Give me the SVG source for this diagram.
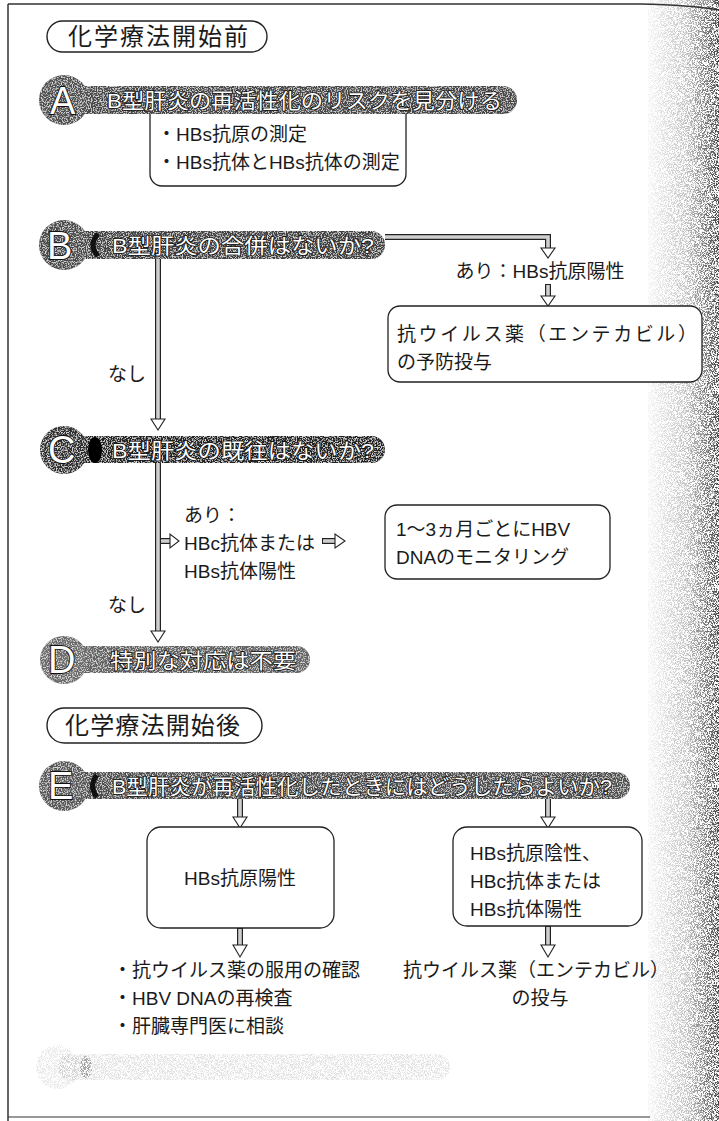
<svg xmlns="http://www.w3.org/2000/svg" width="719" height="1121" viewBox="0 0 719 1121">
<defs>
<style>
.t{font-family:"Liberation Sans","Noto Sans CJK JP",sans-serif;fill:#1a1a1a;font-size:19px}
.hd{font-family:"Liberation Sans","Noto Sans CJK JP",sans-serif;fill:#1a1a1a;font-size:24px}
.bt{font-family:"Liberation Sans","Noto Sans CJK JP",sans-serif;fill:#fff;stroke:#111;stroke-width:1.6px;paint-order:stroke;font-size:21px}
.let{font-family:"Liberation Sans",sans-serif;fill:#fff;stroke:#111;stroke-width:1.8px;paint-order:stroke;font-size:38px}
.box{fill:#fff;stroke:#222;stroke-width:1.3}
.pill{fill:#fff;stroke:#222;stroke-width:1.4}
.sh{fill:none;stroke:#222;stroke-width:6;stroke-linejoin:miter}
.shi{fill:none;stroke:#cfcfcf;stroke-width:3.6;stroke-linejoin:miter}
.hd2{fill:#fff;stroke:#222;stroke-width:1.1}
</style>
<filter id="grain" x="0" y="0" width="100%" height="100%">
<feTurbulence type="fractalNoise" baseFrequency="0.8" numOctaves="2" seed="5" result="n"/>
<feColorMatrix in="n" type="matrix" values="0 0 0 0 0.66  0 0 0 0 0.66  0 0 0 0 0.66  -4.5 0 0 0 2.4" result="w"/>
<feComposite in="w" in2="SourceGraphic" operator="in" result="wi"/>
<feMerge><feMergeNode in="SourceGraphic"/><feMergeNode in="wi"/></feMerge>
</filter>
<filter id="stip" x="0" y="0" width="100%" height="100%">
<feTurbulence type="fractalNoise" baseFrequency="1.3" numOctaves="1" seed="2" result="n"/>
<feColorMatrix in="n" type="matrix" values="0 0 0 0 0  0 0 0 0 0  0 0 0 0 0  -7 0 0 0 3.9" result="d"/>
<feComposite in="d" in2="SourceGraphic" operator="in"/>
</filter>
<linearGradient id="side" x1="0" y1="0" x2="1" y2="0">
<stop offset="0" stop-color="#000" stop-opacity="0.04"/>
<stop offset="0.55" stop-color="#000" stop-opacity="0.25"/>
<stop offset="1" stop-color="#000" stop-opacity="0.75"/>
</linearGradient>
</defs>
<rect width="719" height="1121" fill="#fff"/>
<rect x="648" y="0" width="71" height="1121" fill="url(#side)" filter="url(#stip)"/>
<path d="M8 4 L640 4 Q690 5 719 10" fill="none" stroke="#333" stroke-width="1.3"/>
<line x1="8" y1="4" x2="8" y2="1121" stroke="#333" stroke-width="1.5"/>
<line x1="8" y1="1117" x2="650" y2="1117" stroke="#333" stroke-width="1.2"/>

<g id="header1">
<rect class="pill" x="47" y="21" width="220" height="31" rx="15.5"/>
<text class="hd" x="68" y="45" textLength="180" lengthAdjust="spacing">化学療法開始前</text>
</g>

<g id="nodeA-box">
<rect class="box" x="150" y="100" width="256" height="86" rx="12"/>
<text class="t" x="157" y="141">・HBs抗原の測定</text>
<text class="t" x="157" y="169">・HBs抗体とHBs抗体の測定</text>
</g>
<g id="nodeA">
<g filter="url(#grain)">
<rect x="64" y="86" width="453" height="28" rx="14" fill="#464646"/>
<circle cx="64" cy="100" r="25" fill="#505050"/>
</g>
<text class="let" x="50" y="114">A</text>
<text class="bt" x="107" y="108" textLength="395" lengthAdjust="spacingAndGlyphs">B型肝炎の再活性化のリスクを見分ける</text>
</g>

<g id="connectors">
<polyline class="sh" points="385,237 548,237 548,249"/>
<polyline class="shi" points="385,237 548,237 548,249"/>
<polygon class="hd2" points="541,248 555,248 548,258"/>
<line class="sh" x1="548" y1="284" x2="548" y2="297"/>
<line class="shi" x1="548" y1="285" x2="548" y2="297"/>
<polygon class="hd2" points="541,296 555,296 548,306"/>
<line class="sh" x1="158" y1="259" x2="158" y2="420"/>
<line class="shi" x1="158" y1="259" x2="158" y2="420"/>
<polygon class="hd2" points="151,419 165,419 158,430"/>
<line class="sh" x1="158" y1="462" x2="158" y2="632"/>
<line class="shi" x1="158" y1="462" x2="158" y2="632"/>
<polygon class="hd2" points="151,631 165,631 158,642"/>
<line class="sh" x1="161" y1="541" x2="171" y2="541"/>
<line class="shi" x1="161" y1="541" x2="171" y2="541"/>
<polygon class="hd2" points="170,534 170,548 179,541"/>
<line class="sh" x1="322" y1="541" x2="336" y2="541"/>
<line class="shi" x1="323" y1="541" x2="336" y2="541"/>
<polygon class="hd2" points="335,534 335,548 345,541"/>
<line class="sh" x1="240" y1="799" x2="240" y2="818"/>
<line class="shi" x1="240" y1="799" x2="240" y2="818"/>
<polygon class="hd2" points="233,817 247,817 240,828"/>
<line class="sh" x1="548" y1="799" x2="548" y2="818"/>
<line class="shi" x1="548" y1="799" x2="548" y2="818"/>
<polygon class="hd2" points="541,817 555,817 548,828"/>
<line class="sh" x1="240" y1="928" x2="240" y2="946"/>
<line class="shi" x1="240" y1="929" x2="240" y2="946"/>
<polygon class="hd2" points="233,945 247,945 240,957"/>
<line class="sh" x1="548" y1="926" x2="548" y2="946"/>
<line class="shi" x1="548" y1="927" x2="548" y2="946"/>
<polygon class="hd2" points="541,945 555,945 548,957"/>
</g>

<g id="nodeB">
<g filter="url(#grain)">
<rect x="64" y="231" width="321" height="28" rx="14" fill="#404040"/>
<circle cx="64" cy="245" r="25" fill="#4a4a4a"/>
</g>
<path d="M98 234 Q88 245 98 256" fill="none" stroke="#111" stroke-width="5"/>
<text class="let" x="47" y="259" font-size="34">B</text>
<text class="bt" x="112" y="253" textLength="262" lengthAdjust="spacingAndGlyphs">B型肝炎の合併はないか?</text>
</g>

<g id="labelB-yes">
<text class="t" x="540" y="278" text-anchor="middle">あり：HBs抗原陽性</text>
</g>
<g id="nodeB-box">
<rect class="box" x="388" y="306" width="314" height="76" rx="12"/>
<text class="t" x="397" y="341" textLength="300" lengthAdjust="spacing">抗ウイルス薬（エンテカビル）</text>
<text class="t" x="397" y="369">の予防投与</text>
</g>
<text class="t" x="108" y="381">なし</text>

<g id="nodeC">
<g filter="url(#grain)">
<rect x="64" y="436" width="321" height="27" rx="13.5" fill="#222"/>
<circle cx="64" cy="450" r="24" fill="#2e2e2e"/>
</g>
<ellipse cx="95" cy="450" rx="7" ry="13" fill="#000"/>
<text class="let" x="48" y="463" font-size="34">C</text>
<text class="bt" x="112" y="458" textLength="262" lengthAdjust="spacingAndGlyphs">B型肝炎の既往はないか?</text>
</g>

<g id="labelC-yes">
<text class="t" x="184" y="522">あり：</text>
<text class="t" x="184" y="550">HBc抗体または</text>
<text class="t" x="184" y="578">HBs抗体陽性</text>
</g>
<g id="nodeC-box">
<rect class="box" x="385" y="505" width="225" height="74" rx="12"/>
<text class="t" x="396" y="536">1〜3ヵ月ごとにHBV</text>
<text class="t" x="396" y="564">DNAのモニタリング</text>
</g>
<text class="t" x="108" y="612">なし</text>

<g id="nodeD">
<g filter="url(#grain)">
<rect x="64" y="646" width="246" height="27" rx="13.5" fill="#626262"/>
<circle cx="64" cy="660" r="24" fill="#6a6a6a"/>
</g>
<text class="let" x="48" y="673" font-size="34">D</text>
<text class="bt" x="110" y="668" textLength="186" lengthAdjust="spacingAndGlyphs">特別な対応は不要</text>
</g>

<g id="header2">
<rect class="pill" x="47" y="708" width="215" height="35" rx="17.5"/>
<text class="hd" x="65" y="734" textLength="175" lengthAdjust="spacing">化学療法開始後</text>
</g>

<g id="nodeE">
<g filter="url(#grain)">
<rect x="64" y="772" width="566" height="27" rx="13.5" fill="#4e4e4e"/>
<circle cx="64" cy="786" r="25" fill="#585858"/>
</g>
<path d="M97 775 Q88 786 97 797" fill="none" stroke="#111" stroke-width="5"/>
<text class="let" x="48" y="799" font-size="34">E</text>
<text class="bt" x="112" y="794" textLength="500" lengthAdjust="spacingAndGlyphs">B型肝炎が再活性化したときにはどうしたらよいか?</text>
</g>

<g id="nodeE-left">
<rect class="box" x="147" y="827" width="187" height="101" rx="14"/>
<text class="t" x="240" y="885" text-anchor="middle">HBs抗原陽性</text>
</g>
<g id="nodeE-right">
<rect class="box" x="453" y="827" width="189" height="99" rx="14"/>
<text class="t" x="470" y="860">HBs抗原陰性、</text>
<text class="t" x="470" y="888">HBc抗体または</text>
<text class="t" x="470" y="916">HBs抗体陽性</text>
</g>

<g id="result-left">
<text class="t" x="113" y="977">・抗ウイルス薬の服用の確認</text>
<text class="t" x="113" y="1005">・HBV DNAの再検査</text>
<text class="t" x="113" y="1033">・肝臓専門医に相談</text>
</g>
<g id="result-right">
<text class="t" x="403" y="977">抗ウイルス薬（エンテカビル）</text>
<text class="t" x="540" y="1005" text-anchor="middle">の投与</text>
</g>

<g id="nodeF" opacity="0.45">
<rect x="58" y="1054" width="392" height="26" rx="13" fill="#000" fill-opacity="0.25" filter="url(#stip)"/>
<circle cx="58" cy="1067" r="22" fill="#000" fill-opacity="0.2" filter="url(#stip)"/>
<ellipse cx="86" cy="1067" rx="6" ry="11" fill="#000" fill-opacity="0.8" filter="url(#stip)"/>
</g>
</svg>
